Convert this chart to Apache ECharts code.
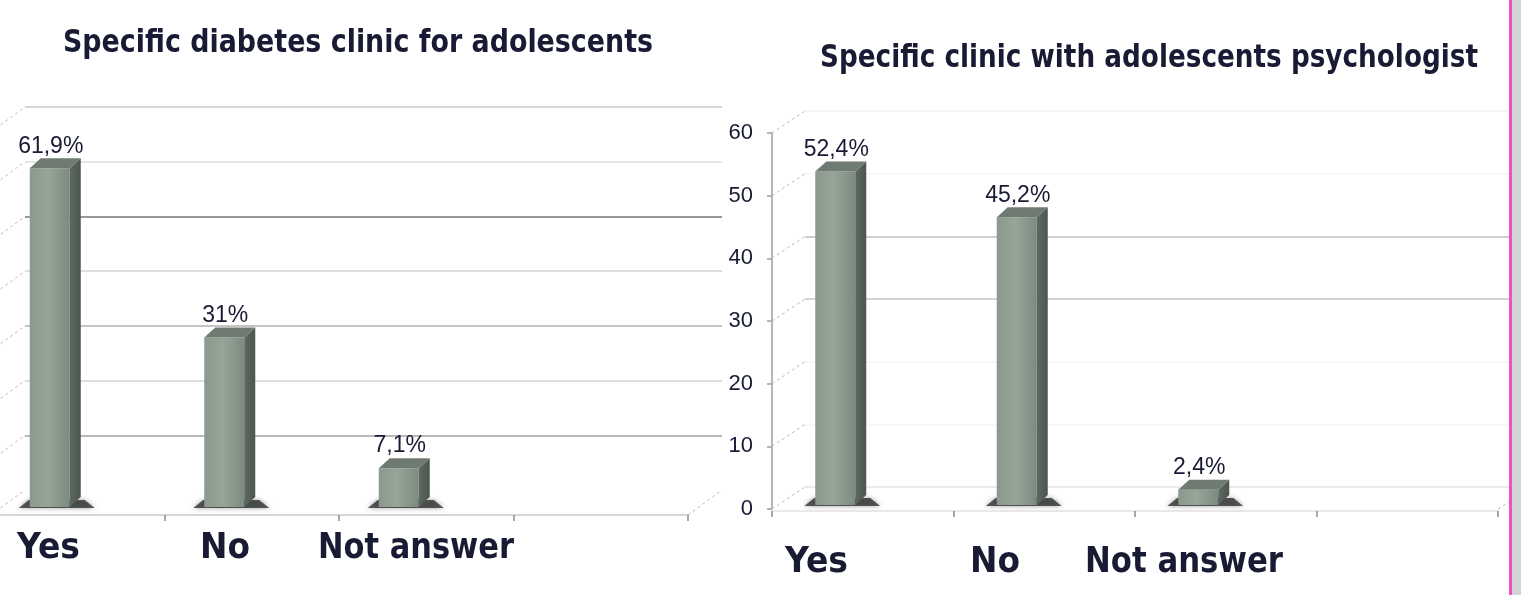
<!DOCTYPE html>
<html>
<head>
<meta charset="utf-8">
<script src="https://cdn.jsdelivr.net/npm/echarts@6/dist/echarts.min.js"></script>
<style>
  html, body { margin: 0; padding: 0; background: #ffffff; }
  #chart { width: 1521px; height: 595px; }
</style>
</head>
<body>
<div id="chart"></div>
<script>
// Survey answers, in percent
const categories = ['Yes', 'No', 'Not answer'];
const clinicShare = [61.9, 31, 7.1];          // specific diabetes clinic for adolescents
const psychologistShare = [52.4, 45.2, 2.4];  // specific clinic with adolescents psychologist
const chartTitles = [
  'Specific diabetes clinic for adolescents',
  'Specific clinic with adolescents psychologist'
];
const clinicTicks = [0, 10, 20, 30, 40, 50, 60, 70];
const psychologistTicks = [0, 10, 20, 30, 40, 50, 60];

const TEXT_COLOR = '#181b33';
const LABEL_FONT = 'bold 36px "DejaVu Sans", sans-serif';
const TITLE_FONT = 'bold 32px "DejaVu Sans", sans-serif';
const VALUE_FONT = '23px "Liberation Sans", Arial, sans-serif';

// "61,9%" style labels (decimal comma)
const fmt = v => (Number.isInteger(v) ? String(v) : v.toFixed(1).replace('.', ',')) + '%';

// horizontal squeeze so a text run spans the wanted width
const measureCtx = document.createElement('canvas').getContext('2d');
function squeeze(text, font, width) {
  measureCtx.font = font;
  return width / measureCtx.measureText(text).width;
}

// 3-D looking column: floor shadow, front face, side face, top face and value label
const SET_BACK = 27.5, BAR_W = 40, DEPTH_X = 11, DEPTH_Y = 10;
function renderColumn(params, api) {
  const idx = api.value(0);
  const v = api.value(1);
  const top = api.coord([idx + 0.5, v]);
  const base = api.coord([idx + 0.5, 0]);
  const cx = top[0] - SET_BACK;
  const l = cx - BAR_W / 2, r = cx + BAR_W / 2;
  const t = top[1], b = base[1];
  return {
    type: 'group',
    children: [
      {
        type: 'polygon',
        shape: { points: [[l - 11, b + 1], [r + DEPTH_X + 14, b + 1], [r + DEPTH_X + 4, b - 7], [l - 1, b - 7]] },
        style: { fill: 'rgba(38,42,40,0.75)', shadowBlur: 5, shadowColor: 'rgba(0,0,0,0.5)' }
      },
      {
        type: 'rect',
        shape: { x: l, y: t, width: BAR_W, height: b - t },
        style: {
          fill: new echarts.graphic.LinearGradient(0, 0, 1, 0, [
            { offset: 0, color: '#8a988d' },
            { offset: 0.45, color: '#97a599' },
            { offset: 1, color: '#7c8a80' }
          ])
        }
      },
      {
        type: 'polygon',
        shape: { points: [[r, t], [r + DEPTH_X, t - DEPTH_Y], [r + DEPTH_X, b - DEPTH_Y], [r, b]] },
        style: {
          fill: new echarts.graphic.LinearGradient(0, 0, 1, 0, [
            { offset: 0, color: '#5d6861' },
            { offset: 1, color: '#4c5650' }
          ])
        }
      },
      {
        type: 'polygon',
        shape: { points: [[l, t], [l + DEPTH_X, t - DEPTH_Y], [r + DEPTH_X, t - DEPTH_Y], [r, t]] },
        style: { fill: '#6f7b72' }
      },
      {
        type: 'text',
        style: {
          text: fmt(v),
          x: cx + 1,
          y: t - 22,
          font: VALUE_FONT,
          fill: TEXT_COLOR,
          align: 'center', verticalAlign: 'middle',
          textAlign: 'center', textVerticalAlign: 'middle'
        }
      }
    ]
  };
}

// dashed receding edges of the side wall and floor
function wallRenderer(dx, dy) {
  return function (params, api) {
    const p = api.coord([api.value(0), api.value(1)]);
    return {
      type: 'line',
      shape: { x1: p[0] - dx, y1: p[1] + dy, x2: p[0], y2: p[1] },
      style: { stroke: '#bcbcbc', lineWidth: 1, lineDash: [3, 3] }
    };
  };
}

const hiddenValue = (gridIndex, max) => ({ gridIndex, type: 'value', min: 0, max, show: false });

function floorAxis(gridIndex, offset, lineColor) {
  return {
    gridIndex, type: 'value', min: 0, max: 4, interval: 1, offset,
    axisLine: { show: true, onZero: false, lineStyle: { color: lineColor, width: 1.5 } },
    axisTick: { show: true, length: 6, lineStyle: { color: '#8c8c8c', width: 1.5 } },
    axisLabel: { show: false },
    splitLine: { show: false }
  };
}

function wallGrid(gridIndex, max, colors) {
  return {
    gridIndex, type: 'value', min: 0, max, interval: 10,
    axisLine: { show: false }, axisTick: { show: false }, axisLabel: { show: false },
    splitLine: { show: true, lineStyle: { color: colors, width: 1.5 } }
  };
}

function categoryTexts(xs, y, widths) {
  return categories.map((c, i) => ({
    type: 'text', x: xs[i], y, scaleX: squeeze(c, LABEL_FONT, widths[i]),
    style: { text: c, font: LABEL_FONT, fill: TEXT_COLOR, x: 0, y: 0,
             align: 'left', verticalAlign: 'middle', textAlign: 'left', textVerticalAlign: 'middle' }
  }));
}

function titleText(text, x, y, width) {
  return {
    type: 'text', x, y, scaleX: squeeze(text, TITLE_FONT, width),
    style: { text, font: TITLE_FONT, fill: TEXT_COLOR, x: 0, y: 0,
             align: 'left', verticalAlign: 'middle', textAlign: 'left', textVerticalAlign: 'middle' }
  };
}

const chart = echarts.init(document.getElementById('chart'), null, { renderer: 'canvas' });

const gridBase = { containLabel: false, outerBoundsMode: 'none', show: false };

chart.setOption({
  animation: false,
  backgroundColor: '#ffffff',
  grid: [
    Object.assign({ left: 25, top: 107, width: 697, height: 383 }, gridBase),   // left back wall
    Object.assign({ left: -10, top: 124, width: 698, height: 383 }, gridBase),  // left columns + floor
    Object.assign({ left: 772, top: 133, width: 726, height: 376 }, gridBase),  // right value axis + floor
    Object.assign({ left: 805, top: 111, width: 726, height: 376 }, gridBase),  // right back wall
    Object.assign({ left: 772, top: 123, width: 726, height: 382 }, gridBase)   // right columns
  ],
  xAxis: [
    hiddenValue(0, 1),
    floorAxis(1, 8, '#c9c9c9'),
    floorAxis(2, 2, '#e2e2e2'),
    hiddenValue(3, 1),
    hiddenValue(4, 4)
  ],
  yAxis: [
    wallGrid(0, 70, ['rgba(0,0,0,0)', '#a2a2a2', '#d3d3d3', '#b2b2b2', '#d3d3d3', '#767676', '#dedede', '#c9c9c9']),
    hiddenValue(1, 70),
    {
      gridIndex: 2, type: 'value', min: 0, max: 60, interval: 10,
      axisLine: { show: true, lineStyle: { color: '#9e9e9e', width: 1.5 } },
      axisTick: { show: true, length: 5, lineStyle: { color: '#9e9e9e', width: 1.5 } },
      axisLabel: { show: true, margin: 19, fontSize: 22, fontFamily: '"Liberation Sans", Arial, sans-serif', color: TEXT_COLOR },
      splitLine: { show: false }
    },
    wallGrid(3, 60, ['#e4e4e4', '#f5f5f5', '#f5f5f5', '#c6c6c6', '#bfbfbf', '#f5f5f5', '#f3f3f3']),
    hiddenValue(4, 60)
  ],
  series: [
    {
      type: 'custom', xAxisIndex: 0, yAxisIndex: 0, clip: false, silent: true, z: 1,
      renderItem: wallRenderer(34, 25),
      data: clinicTicks.map(v => [0, v]).concat([[1, 0]])
    },
    {
      type: 'custom', xAxisIndex: 1, yAxisIndex: 1, clip: false, silent: true, z: 3,
      renderItem: renderColumn,
      data: clinicShare.map((v, i) => [i, v])
    },
    {
      type: 'custom', xAxisIndex: 3, yAxisIndex: 3, clip: false, silent: true, z: 1,
      renderItem: wallRenderer(33, 22),
      data: psychologistTicks.map(v => [0, v]).concat([[1, 0]])
    },
    {
      type: 'custom', xAxisIndex: 4, yAxisIndex: 4, clip: false, silent: true, z: 3,
      renderItem: renderColumn,
      data: psychologistShare.map((v, i) => [i, v])
    }
  ],
  graphic: [
    titleText(chartTitles[0], 63, 44, 590),
    titleText(chartTitles[1], 820, 59, 658),
    ...categoryTexts([17, 200, 318], 549, [63, 50, 196]),
    ...categoryTexts([785, 970, 1085], 563, [63, 50, 198]),
    { type: 'rect', shape: { x: 1512, y: 0, width: 9, height: 595 }, style: { fill: '#d4d4d4' }, z: 10 },
    { type: 'rect', shape: { x: 1509, y: 0, width: 3, height: 595 }, style: { fill: '#f24fc6' }, z: 10 }
  ]
});
</script>
</body>
</html>
